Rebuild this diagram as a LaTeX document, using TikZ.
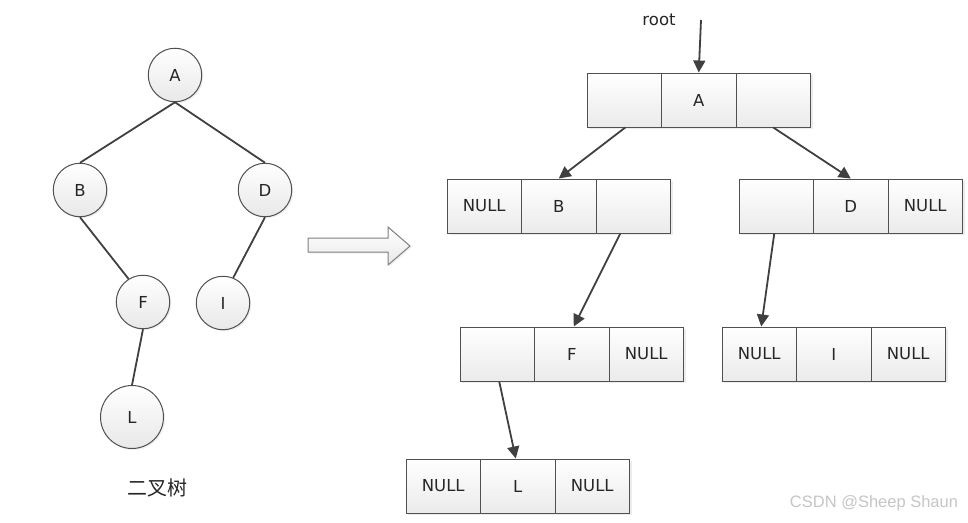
\documentclass[tikz,border=0pt]{standalone}
\usepackage{fontspec}
\setmainfont{DejaVu Sans}
\newfontfamily\cjk{Noto Sans CJK SC}
\newfontfamily\wmfont{Liberation Sans}
\usetikzlibrary{arrows.meta,shadows}
\definecolor{edgecol}{HTML}{404040}
\definecolor{bordercol}{HTML}{505050}
\newcommand\recthree[6]{%
  \node[cell] (#1a) at ({#2+37.25},{#3+27}) {#4};
  \node[cell] (#1b) at ({#2+111.75},{#3+27}) {#5};
  \node[cell] (#1c) at ({#2+186.25},{#3+27}) {#6};
}
\begin{document}
\begin{tikzpicture}[x=1pt,y=-1pt,
  cell/.style={rectangle, draw=bordercol, line width=1pt, minimum width=74.5pt,
    minimum height=54pt, inner sep=0pt, top color=white, bottom color=gray!16,
    drop shadow={opacity=0.15, shadow xshift=2pt, shadow yshift=-2pt},
    font=\fontsize{16.5}{18}\selectfont, text=black!85},
  circ/.style={circle, draw=bordercol, line width=1pt, minimum size=53.5pt,
    inner sep=0pt, top color=white, bottom color=gray!18,
    drop shadow={opacity=0.12, shadow xshift=1.5pt, shadow yshift=-1.5pt},
    font=\fontsize{16.5}{18}\selectfont, text=black!85},
  tedge/.style={draw=edgecol, line width=1.8pt},
  arr/.style={draw=edgecol, line width=1.8pt, -{Triangle[length=12pt,width=12pt]}},
]
\useasboundingbox[fill=white] (0,0) rectangle (968,522);

% left tree
\node[circ] (cA) at (175,75) {A};
\node[circ] (cB) at (80,190) {B};
\node[circ] (cD) at (265,190) {D};
\node[circ] (cF) at (143,302) {F};
\node[circ] (cI) at (223,303) {I};
\node[circ, minimum size=63pt] (cL) at (132,417) {L};
\draw[tedge] (cA.south) -- (cB.north);
\draw[tedge] (cA.south) -- (cD.north);
\draw[tedge] (cB.south) -- (cF.122);
\draw[tedge] (cD.south) -- (cI.68);
\draw[tedge] (cF.south) -- (cL.north);
\node[font=\cjk\fontsize{20}{22}\selectfont, text=black!85] (cap) at (157,488) {二叉树};

% block arrow
\draw[draw=black!50, line width=1pt, top color=white, bottom color=gray!18,
  drop shadow={opacity=0.12, shadow xshift=1.5pt, shadow yshift=-1.5pt}]
  (308,238) -- (388,238) -- (388,227) -- (410,246) -- (388,265) -- (388,252) -- (308,252) -- cycle;

% records
\recthree{A}{587}{73}{}{A}{}
\recthree{B}{447}{179}{NULL}{B}{}
\recthree{D}{739}{179}{}{D}{NULL}
\recthree{F}{460}{327}{}{F}{NULL}
\recthree{I}{722}{327}{NULL}{I}{NULL}
\recthree{L}{406}{459}{NULL}{L}{NULL}

% root
\node[font=\fontsize{16.5}{18}\selectfont, text=black!85] (rootlbl) at (659,20) {root};
\coordinate (rootc) at (701,20);
\draw[arr] (rootc) -- (Ab.north);

% pointers
\draw[arr] ([xshift=1pt]Aa.south) -- (Bb.north);
\draw[arr] (Ac.south) -- (Db.north);
\draw[arr] ([xshift=-13pt]Bc.south) -- ([xshift=2pt]Fb.north);
\draw[arr] ([xshift=-2pt]Da.south) -- ([xshift=2pt]Ia.north);
\draw[arr] ([xshift=2pt]Fa.south) -- ([xshift=-2pt]Lb.north);

% watermark
\node[font=\wmfont\fontsize{16.5}{18}\selectfont, text=gray!45] (wm) at (874,503) {CSDN @Sheep Shaun};
\end{tikzpicture}
\end{document}
